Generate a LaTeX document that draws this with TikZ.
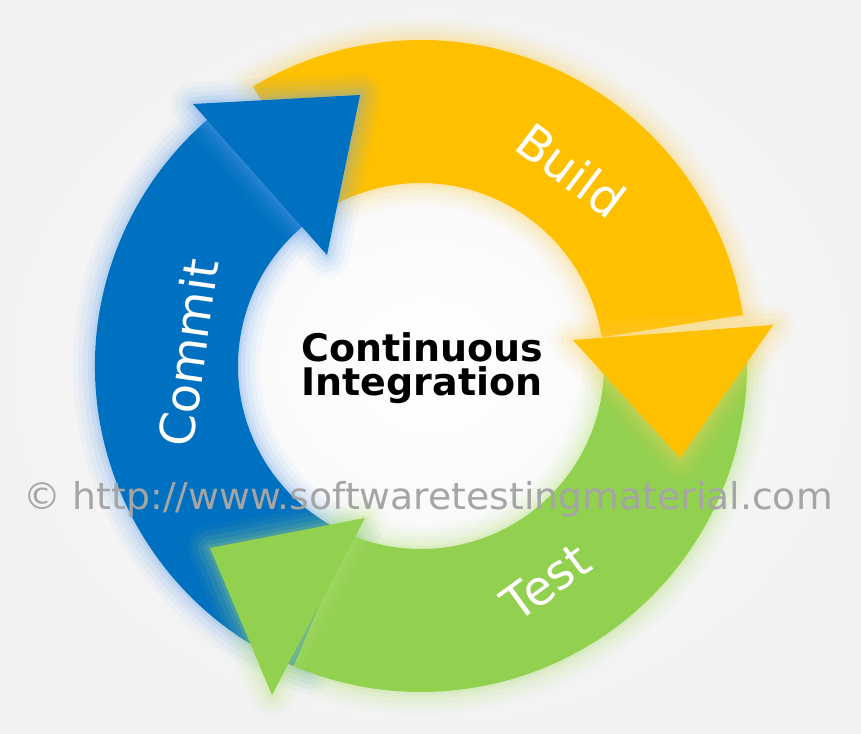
\documentclass[tikz,border=0pt]{standalone}
\usepackage{fontspec}
\setmainfont{DejaVu Sans}
\usepackage{tikz}
\definecolor{commitblue}{RGB}{0,112,192}
\definecolor{buildyellow}{RGB}{255,192,0}
\definecolor{testgreen}{RGB}{146,208,80}
\definecolor{commitglow}{RGB}{100,165,240}
\definecolor{buildglow}{RGB}{255,210,90}
\definecolor{testglow}{RGB}{180,228,120}
\definecolor{markgray}{RGB}{165,165,165}
\tikzset{
    ring label/.style={text=white, inner sep=0pt,
    	font=\fontsize{48}{50}\selectfont}
}
\tikzset{
    ci label/.style={text=black, inner sep=0pt,
    	font=\fontsize{38}{40}\selectfont\bfseries}
}
% soft glow: a few wide see-through strokes round a shape
\newcommand{\glowshape}[2]{%
	\foreach \w/\o in {44/0.05, 34/0.07, 24/0.09, 14/0.12, 6/0.16}
		\draw[#1, line width=\w pt, opacity=\o, line join=round] #2;
}
\newcommand{\ringpath}[2]{(#1:326) arc[start angle=#1, end angle=#2, radius=326]
	-- (#2:183) arc[start angle=#2, end angle=#1, radius=183] -- cycle}

\begin{document}
\begin{tikzpicture}[x=1pt, y=1pt]
	\useasboundingbox (-421,-367) rectangle (440,366);
	\shade[inner color=white, outer color=black!5] (-421,-367) rectangle (440,366);
	
	% arrow heads
	\coordinate (cb1) at (-228,262); \coordinate (cb2) at (-94,111); \coordinate (ct) at (-61,271);
	\coordinate (bb1) at (152,26); \coordinate (bb2) at (352,41); \coordinate (bt) at (259,-92);
	\coordinate (tb1) at (-56,-152); \coordinate (tb2) at (-149,-329); \coordinate (tt) at (-211,-182);
	
	% shafts
	\glowshape{commitglow}{\ringpath{250}{130}}
	\fill[commitblue] \ringpath{250}{130};
	\glowshape{buildglow}{\ringpath{121}{9}}
	\fill[buildyellow] \ringpath{121}{9};
	\glowshape{testglow}{\ringpath{1}{-113}}
	\fill[testgreen] \ringpath{1}{-113};
	
	% heads
	\glowshape{commitglow}{(cb1) -- (ct) -- (cb2) -- cycle}
	\fill[commitblue] (cb1) -- (ct) -- (cb2) -- cycle;
	\glowshape{buildglow}{(bb1) -- (bb2) -- (bt) -- cycle}
	\fill[buildyellow] (bb1) -- (bb2) -- (bt) -- cycle;
	\glowshape{testglow}{(tb1) -- (tb2) -- (tt) -- cycle}
	\fill[testgreen] (tb1) -- (tb2) -- (tt) -- cycle;
	
	\node (commit) [ring label, rotate=82] at (-233,13) {Commit};
	\node (build) [ring label, rotate=-37] at (150,196) {Build};
	\node (test) [ring label, rotate=36] at (125,-216) {Test};
	
	\node (ci1) [ci label, anchor=base] at (1.5,4) {Continuous};
	\node (ci2) [ci label, anchor=base] at (1,-29) {Integration};
	
	\node (mark) [text=markgray, anchor=base, inner sep=0pt, xscale=1.02,
		font=\fontsize{37}{40}\selectfont] at (7,-143) {© http://www.softwaretestingmaterial.com};
\end{tikzpicture}
\end{document}
